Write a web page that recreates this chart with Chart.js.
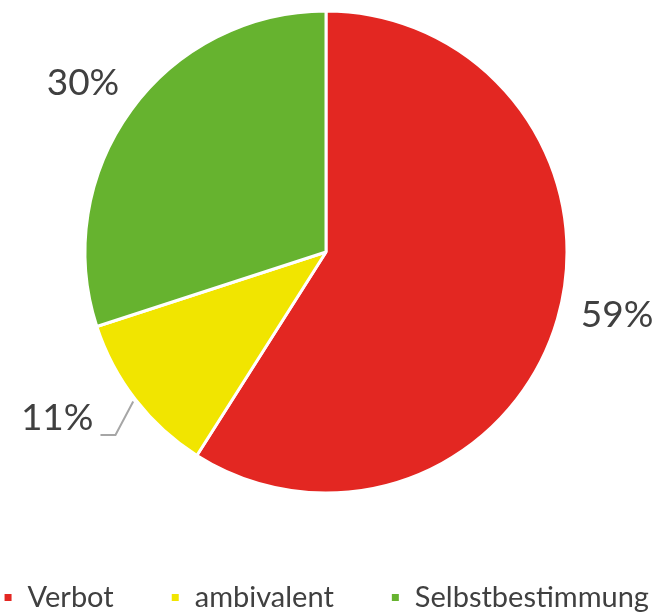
<!DOCTYPE html>
<html>
<head>
<meta charset="utf-8">
<script src="https://cdn.jsdelivr.net/npm/chart.js@4"></script>
<style>
  html, body { margin: 0; padding: 0; background: #fff; }
  #wrap { width: 664px; height: 613px; }
</style>
</head>
<body>
<div id="wrap"><canvas id="pie"></canvas></div>
<script>
const categories = ['Verbot', 'ambivalent', 'Selbstbestimmung'];
const shares = [59, 11, 30];
const sliceColors = ['#e32722', '#f1e500', '#66b32f'];

// label placement: distance as part of the radius, angle shift in degrees
const labelDistance = [1.236, 1.311, 1.228];
const labelShift = [-4, 6.1, -1.2];
const withLeader = [false, true, false];

const textColor = '#404040';
const legendGap = '      '; // extra luft zwischen den legendeneinträgen

// kreis etwas nach oben/links, legende etwas tiefer als chart.js es legt
const pieShift = { x: -6, y: -29 };
const legendDrop = 9;

const shiftLayout = {
    id: 'shiftLayout',
    afterLayout(chart) {
        const ca = chart.chartArea;
        ca.left += pieShift.x;
        ca.right += pieShift.x;
        ca.top += pieShift.y;
        ca.bottom += pieShift.y;
        chart.legend.top += legendDrop;
        chart.legend.bottom += legendDrop;
    }
};

// prozentlabels außen am kreis, mit führungslinie beim kleinen stück
const outsideLabels = {
    id: 'outsideLabels',
    afterDatasetsDraw(chart) {
        const ctx = chart.ctx;
        const meta = chart.getDatasetMeta(0);
        ctx.save();
        ctx.font = '37px Lato';
        ctx.fillStyle = textColor;
        ctx.textAlign = 'center';
        ctx.textBaseline = 'middle';
        meta.data.forEach((arc, i) => {
            const mid = (arc.startAngle + arc.endAngle) / 2;
            const ang = mid + labelShift[i] * Math.PI / 180;
            const r = arc.outerRadius * labelDistance[i];
            const lx = arc.x + Math.cos(ang) * r;
            const ly = arc.y + Math.sin(ang) * r;
            const text = shares[i] + '%';
            ctx.fillText(text, lx, ly);

            if (withLeader[i]) {
                const w = ctx.measureText(text).width;
                const sx = arc.x + Math.cos(mid) * (arc.outerRadius + 3);
                const sy = arc.y + Math.sin(mid) * (arc.outerRadius + 3);
                const ex = lx + w / 2 + 7;
                const ey = ly + 17;
                ctx.strokeStyle = '#a6a6a6';
                ctx.lineWidth = 2;
                ctx.beginPath();
                ctx.moveTo(sx, sy);
                ctx.lineTo(ex + 15, ey);
                ctx.lineTo(ex, ey);
                ctx.stroke();
            }
        });
        ctx.restore();
    }
};

new Chart(document.getElementById('pie'), {
    type: 'pie',
    data: {
        labels: categories,
        datasets: [{
            data: shares,
            backgroundColor: sliceColors,
            borderColor: '#ffffff',
            borderWidth: 3,
            radius: 241
        }]
    },
    options: {
        responsive: true,
        maintainAspectRatio: false,
        animation: false,
        events: [],
        layout: {
            // etwas breiter, damit die legende in einer zeile bleibt
            padding: { top: 0, left: -20, right: -8, bottom: 0 }
        },
        plugins: {
            tooltip: { enabled: false },
            legend: {
                position: 'bottom',
                labels: {
                    boxWidth: 10,
                    boxHeight: 10,
                    padding: 12,
                    color: textColor,
                    font: { family: 'Lato', size: 29 },
                    generateLabels(chart) {
                        const items = Chart.controllers.pie.overrides.plugins.legend.labels.generateLabels(chart);
                        items.forEach((it, i) => {
                            if (i < items.length - 1) it.text += legendGap;
                        });
                        return items;
                    }
                }
            }
        }
    },
    plugins: [shiftLayout, outsideLabels]
});
</script>
</body>
</html>
